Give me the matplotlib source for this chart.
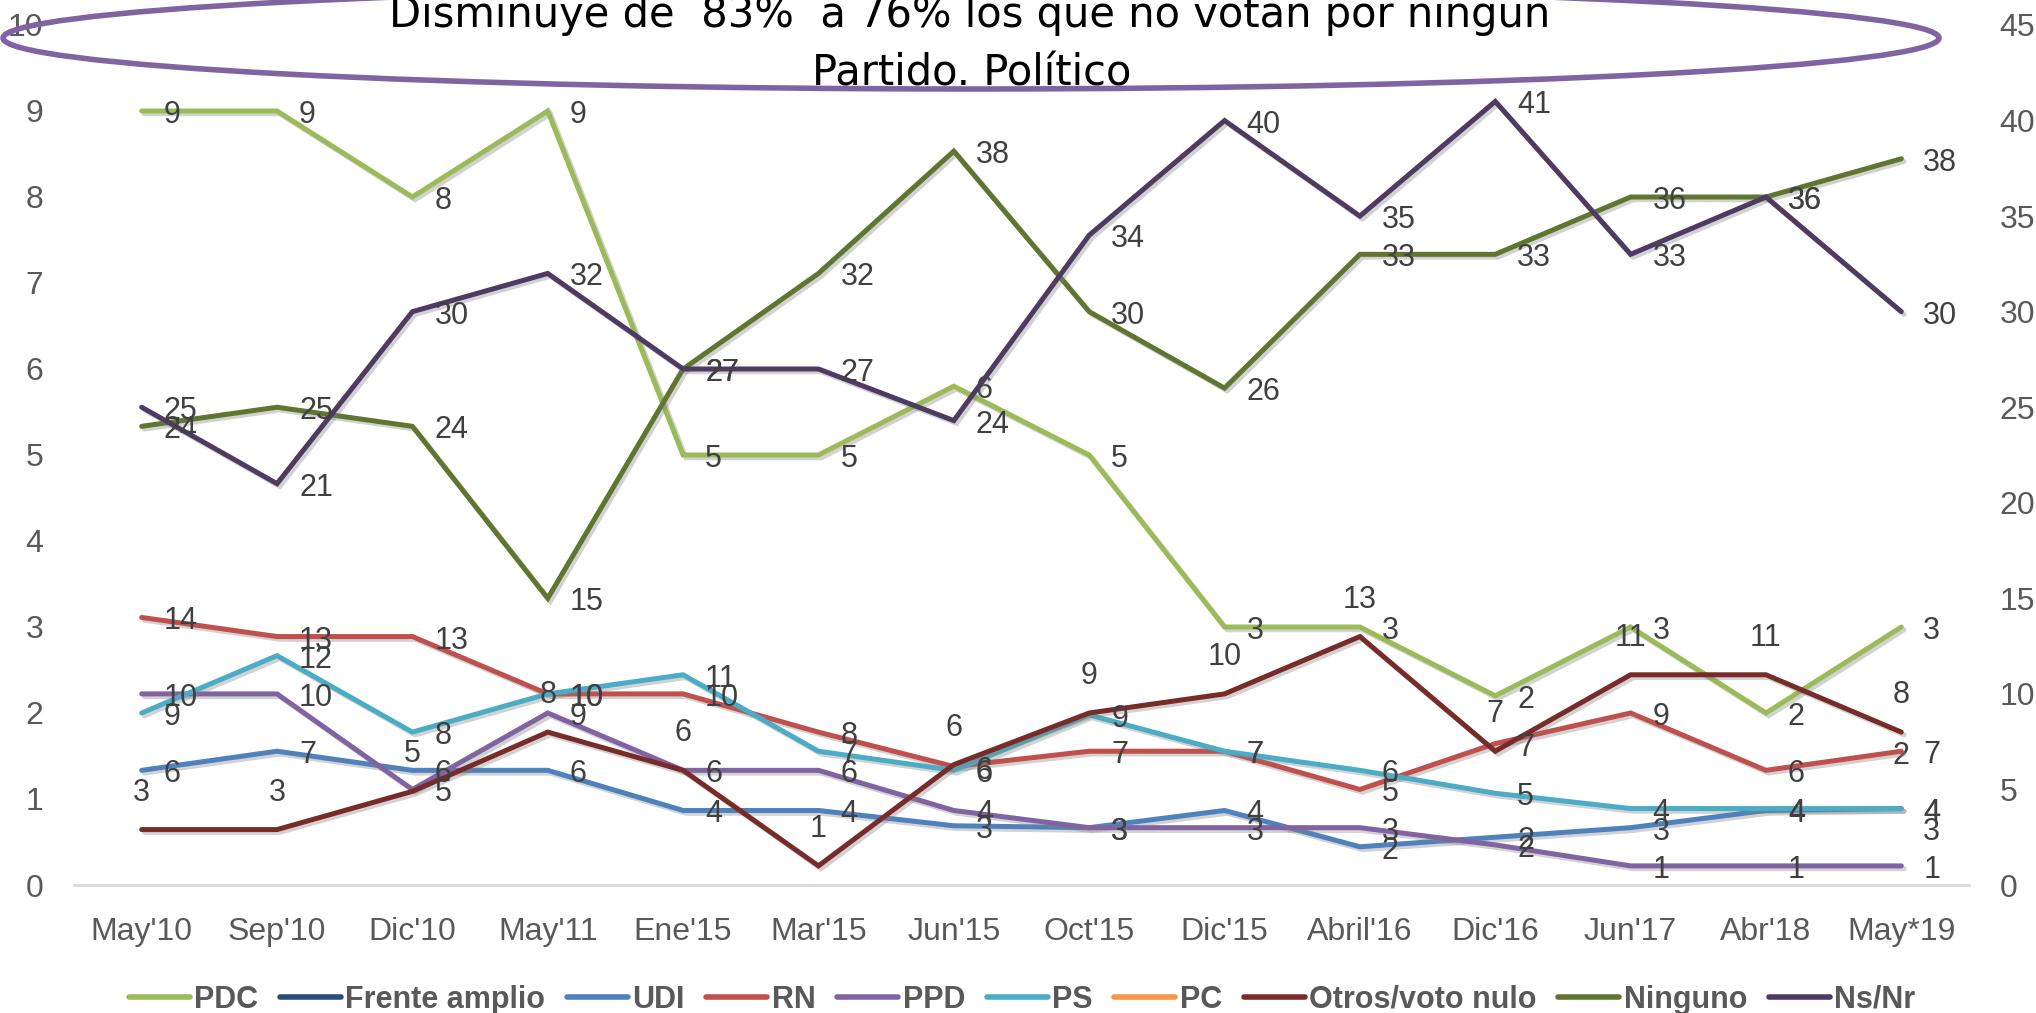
import numpy as np
import matplotlib
matplotlib.use("Agg")
import matplotlib.pyplot as plt
import matplotlib.patheffects as pe
from matplotlib.patches import Ellipse
from matplotlib.lines import Line2D

plt.rcParams['font.family'] = ['Liberation Sans', 'DejaVu Sans']

# --- data ---
months = ["May'10", "Sep'10", "Dic'10", "May'11", "Ene'15", "Mar'15", "Jun'15",
          "Oct'15", "Dic'15", "Abril'16", "Dic'16", "Jun'17", "Abr'18", "May*19"]
nan = np.nan
pdc = [9, 9, 8, 9, 5, 5, 5.8, 5, 3, 3, 2.2, 3, 2, 3]              # left axis
frente_amplio = [nan] * 13 + [3]
udi = [6, 7, 6, 6, 3.9, 3.9, 3.1, 3, 3.9, 2, 2.5, 3, 3.9, 4]
rn = [14, 13, 13, 10, 10, 8, 6.2, 7, 7, 5, 7.4, 9, 6, 7]
ppd = [10, 10, 5, 9, 6, 6, 3.9, 3, 3, 3, 2.1, 1, 1, 1]
ps = [9, 12, 8, 10, 11, 7, 6, 8.9, 7, 6, 4.8, 4, 4, 4]
pc = [nan] * 13 + [1.5]                                             # left axis
otros = [2.9, 2.9, 4.9, 8, 6, 1, 6.3, 9, 10, 13, 7, 11, 11, 8]
ninguno = [24, 25, 24, 15, 27, 32, 38.4, 30, 26, 33, 33, 36, 36, 38]
nsnr = [25, 21, 30, 32, 27, 27, 24.3, 34, 40, 35, 41, 33, 36, 30]

names = ["PDC", "Frente amplio", "UDI", "RN", "PPD", "PS", "PC",
         "Otros/voto nulo", "Ninguno", "Ns/Nr"]
series = [pdc, frente_amplio, udi, rn, ppd, ps, pc, otros, ninguno, nsnr]
colors = ["#9BBB59", "#2C4D75", "#4F81BD", "#C0504D", "#8064A2", "#4BACC6",
          "#F79646", "#772C2A", "#5F7530", "#4D3B62"]
on_left = ["PDC", "PC"]
label_mode = {"Otros/voto nulo": "above", "PC": "center"}

title1 = "Disminuye de  83%  a 76% los que no votan por ningun"
title2 = "Partido. Político"

W, H = 2036, 1013
fig = plt.figure(figsize=(W / 100, H / 100), dpi=100)
ax = fig.add_axes([74 / W, 1 - 885 / H, (1969 - 74) / W, (885 - 25) / H])
ax2 = ax.twinx()

x = np.arange(len(months))
shadow = [pe.SimpleLineShadow(offset=(2, -2), shadow_color="#7f7f7f", alpha=0.35),
          pe.Normal()]
label_color = "#404040"
fs_lab = 22
fs_tick = 23

for name, vals, col in zip(names, series, colors):
    target = ax if name in on_left else ax2
    vals = np.array(vals, dtype=float)
    target.plot(x, vals, color=col, lw=3.6, solid_joinstyle="miter",
                solid_capstyle="round", path_effects=shadow)
    mode = label_mode.get(name, "right")
    for xi, v in zip(x, vals):
        if np.isnan(v):
            continue
        if mode == "right":
            off, ha = (22, -4), "left"
        elif mode == "above":
            off, ha = (0, 37), "center"
        else:
            off, ha = (0, 0), "center"
        target.annotate(f"{v:.0f}", (xi, v), xytext=off, textcoords="offset pixels",
                        ha=ha, va="center", fontsize=fs_lab, color=label_color)

ax.set_xlim(-0.5, len(months) - 0.5)
ax.set_ylim(0, 10)
ax2.set_ylim(0, 45)
ax.set_yticks(range(0, 11))
ax2.set_yticks(range(0, 46, 5))
ax.set_xticks(x)
ax.set_xticklabels(months)

for a in (ax, ax2):
    for s in a.spines.values():
        s.set_visible(False)
    a.tick_params(length=0, labelsize=fs_tick, labelcolor="#595959")
ax.spines["bottom"].set_visible(True)
ax.spines["bottom"].set_color("#D9D9D9")
ax.spines["bottom"].set_linewidth(2)
ax.tick_params(axis="x", pad=23)
ax.tick_params(axis="y", pad=22)
ax2.tick_params(axis="y", pad=22)
ax.patch.set_visible(False)

handles = [Line2D([], [], color=c, lw=4, solid_capstyle="round") for c in colors]
leg = fig.legend(handles, names, loc="center", bbox_to_anchor=(0.502, 0.013),
                 ncol=len(names), frameon=False, handlelength=2.0,
                 handletextpad=0.15, columnspacing=0.7,
                 prop={"weight": "bold", "size": 22})
for t in leg.get_texts():
    t.set_color("#595959")

ell = Ellipse((971 / W, 1 - 38 / H), 1936 / W, 102 / H, transform=fig.transFigure,
              fill=False, edgecolor="#8064A2", lw=4, zorder=5)
fig.add_artist(ell)
fig.text(970 / W, 1 - 27 / H, title1, ha="center", va="baseline", fontsize=30,
         family="DejaVu Sans", color="black", zorder=6)
fig.text(972 / W, 1 - 86 / H, title2, ha="center", va="baseline", fontsize=30,
         family="DejaVu Sans", color="black", zorder=6)

fig.savefig("out.png", dpi=100)
